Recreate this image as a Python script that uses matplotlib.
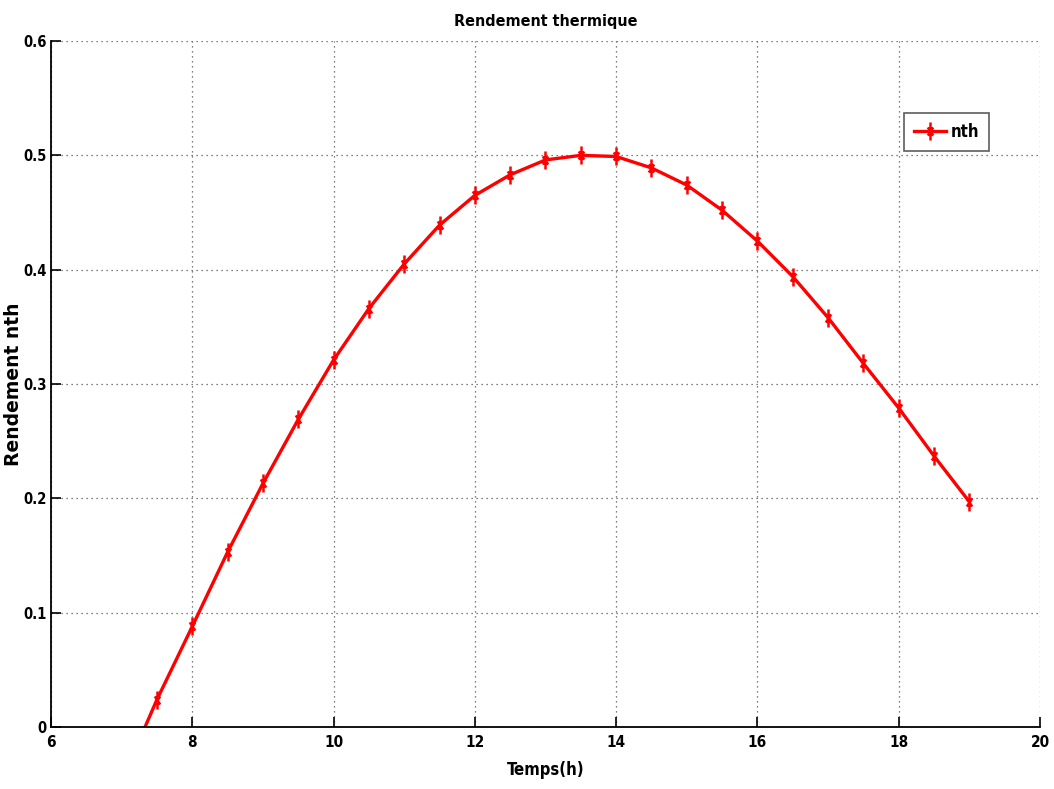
import matplotlib
matplotlib.use("Agg")
import matplotlib.pyplot as plt
from matplotlib.font_manager import FontProperties
from matplotlib.path import Path

# Hourly thermal efficiency
hours = [7.0, 7.5, 8.0, 8.5, 9.0, 9.5, 10.0, 10.5, 11.0, 11.5, 12.0, 12.5, 13.0,
         13.5, 14.0, 14.5, 15.0, 15.5, 16.0, 16.5, 17.0, 17.5, 18.0, 18.5, 19.0]
nth = [-0.047, 0.024, 0.088, 0.153, 0.213, 0.269, 0.321, 0.366, 0.405, 0.439,
       0.465, 0.483, 0.496, 0.500, 0.499, 0.489, 0.474, 0.452, 0.425, 0.394,
       0.358, 0.318, 0.279, 0.237, 0.197]
xticks = [6, 8, 10, 12, 14, 16, 18, 20]
yticks = [0, 0.1, 0.2, 0.3, 0.4, 0.5, 0.6]
ytick_labels = ["0", "0.1", "0.2", "0.3", "0.4", "0.5", "0.6"]

narrow = dict(family="DejaVu Sans", stretch="condensed", weight="bold")

# tall, thin asterisk marker
star = Path([(0, -1), (0, 1), (-0.3, -0.45), (0.3, 0.45), (-0.3, 0.45), (0.3, -0.45)],
            [Path.MOVETO, Path.LINETO, Path.MOVETO, Path.LINETO, Path.MOVETO, Path.LINETO])

fig = plt.figure(figsize=(10.54, 7.89), dpi=100)
ax = fig.add_axes([0.0484, 0.0786, 0.9383, 0.8694])

ax.plot(hours, nth, color="red", linewidth=2.4, marker=star,
        markersize=13, markeredgewidth=1.8, markevery=range(1, len(hours)),
        label="nth")

ax.set_xlim(6, 20)
ax.set_ylim(0, 0.6)
ax.set_xticks(xticks)
ax.set_xticklabels([str(t) for t in xticks], fontproperties=FontProperties(size=11, **narrow))
ax.set_yticks(yticks)
ax.set_yticklabels(ytick_labels, fontproperties=FontProperties(size=10.5, **narrow))

ax.grid(True, linestyle=(0, (1, 3)), color="#555555", linewidth=0.9)
for side in ("top", "right"):
    ax.spines[side].set_visible(False)
for side in ("left", "bottom"):
    ax.spines[side].set_linewidth(1.3)
ax.tick_params(direction="in", length=7, width=1.2)
ax.tick_params(axis="y", pad=3)
ax.tick_params(axis="x", pad=6)

ax.set_title("Rendement thermique", fontproperties=FontProperties(size=11.5, **narrow), pad=11)
ax.set_xlabel("Temps(h)", fontproperties=FontProperties(size=12, **narrow), labelpad=8)
ax.set_ylabel("Rendement nth", family="DejaVu Sans", fontweight="bold", fontsize=13.5)
ax.yaxis.set_label_coords(-0.028, 0.5)

leg = ax.legend(loc="upper left", bbox_to_anchor=(0.8625, 0.895),
                prop=FontProperties(size=12, **narrow),
                frameon=True, fancybox=False, handlelength=1.9,
                borderpad=0.6, handletextpad=0.3, borderaxespad=0.0)
leg.get_frame().set_edgecolor("#333333")
leg.get_frame().set_linewidth(1.2)

fig.savefig("out.png", dpi=100, facecolor="white")
